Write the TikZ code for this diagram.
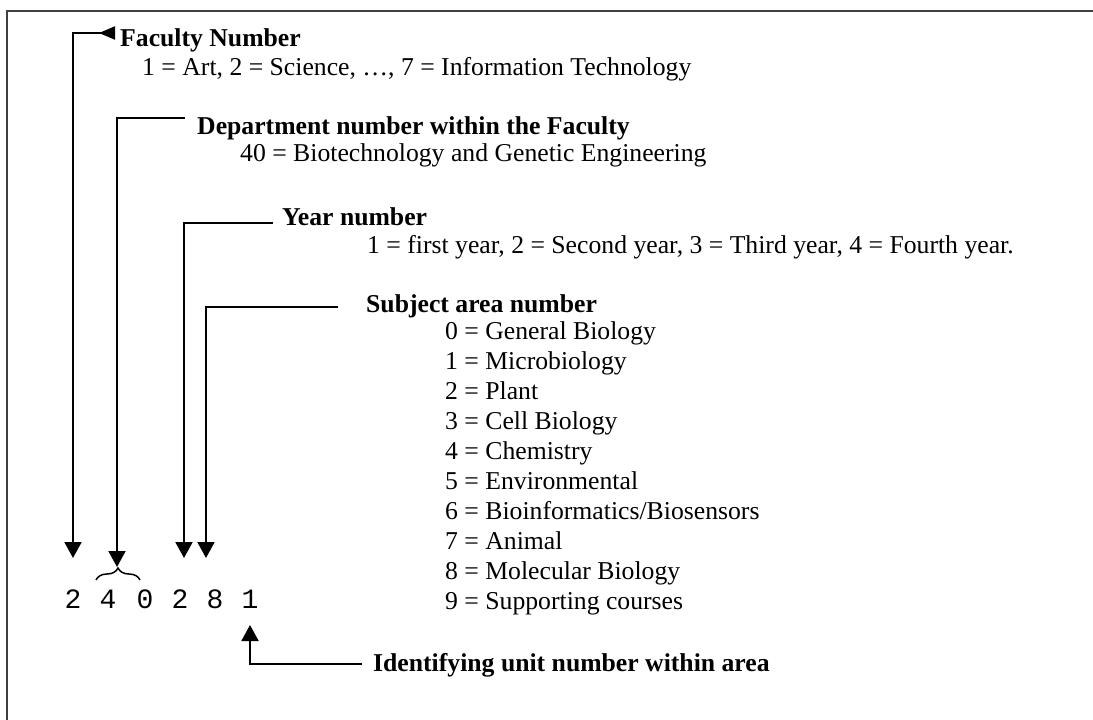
\documentclass[tikz,border=0pt]{standalone}
\usepackage{fontspec}
\setmainfont{Liberation Serif}
\newfontfamily\digitfont{Liberation Mono}
\usetikzlibrary{arrows.meta,decorations.pathreplacing}

\begin{document}
\begin{tikzpicture}[
x=1pt, y=-1pt,
every node/.style={inner sep=0pt, anchor=base west},
head/.style={font=\fontsize{25.7}{30}\selectfont\bfseries},
desc/.style={font=\fontsize{25.7}{30}\selectfont},
digit/.style={font=\digitfont\fontsize{28}{30}\selectfont, anchor=base},
arrow/.style={-{Triangle[width=17pt,length=16pt]}, line width=2pt},
frame/.style={line width=2.5pt, black!75}
]
\useasboundingbox (0,0) rectangle (1093,720);
\draw[frame] (7,720) -- (7,11) -- (1093,11);

% texts
\node[head] (faculty) at (120,46) {Faculty Number};
\node[desc] (facultydesc) at (142,75)
{1 = Art, 2 = Science, …, 7 = Information Technology};
\node[head] (dept) at (197,134) {Department number within the Faculty};
\node[desc] (deptdesc) at (240,161)
{40 = Biotechnology and Genetic Engineering};
\node[head] (year) at (282,225) {Year number};
\node[desc] (yeardesc) at (367,253)
{1 = first year, 2 = Second year, 3 = Third year, 4 = Fourth year.};
\node[head] (subject) at (366,312) {Subject area number};
\node[desc, anchor=north west, align=left] (subjectlist) at (445,321)
{0 = General Biology\\
1 = Microbiology\\
2 = Plant\\
3 = Cell Biology\\
4 = Chemistry\\
5 = Environmental\\
6 = Bioinformatics/Biosensors\\
7 = Animal\\
8 = Molecular Biology\\
9 = Supporting courses};
\node[head] (unit) at (373,671) {Identifying unit number within area};

% code digits
\node[digit] (d1) at (73,608) {2};
\node[digit] (d2) at (108,608) {4};
\node[digit] (d3) at (145,608) {0};
\node[digit] (d4) at (180,608) {2};
\node[digit] (d5) at (215,608) {8};
\node[digit] (d6) at (250,608) {1};

% connector ends
\coordinate (faculty-in) at (115,33);
\coordinate (faculty-out) at (73,558);
\coordinate (dept-in) at (185,118);
\coordinate (dept-out) at (117,567);
\coordinate (year-in) at (273,223);
\coordinate (year-out) at (184,558);
\coordinate (subject-in) at (338,307);
\coordinate (subject-out) at (206,558);
\coordinate (unit-in) at (362,664);
\coordinate (unit-out) at (250,625);

\draw[line width=1.5pt, decorate, decoration={brace, amplitude=12pt}]
(96,580) -- (140,580);

\draw[arrow, {Triangle[reversed,width=13pt,length=16pt]}-{Triangle[width=17pt,length=16pt]}]
(faculty-in) -| (faculty-out);
\draw[arrow] (dept-in) -| (dept-out);
\draw[arrow] (year-in) -| (year-out);
\draw[arrow] (subject-in) -| (subject-out);
\draw[arrow] (unit-in) -| (unit-out);
\end{tikzpicture}
\end{document}
